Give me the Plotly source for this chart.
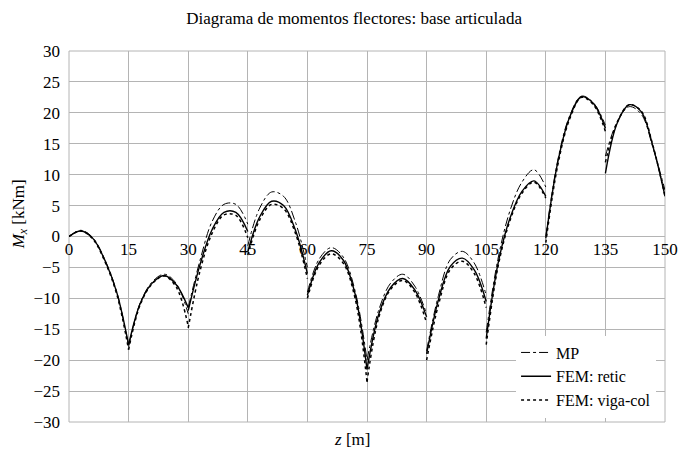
import plotly.graph_objects as go

# z positions per span (None separates the discontinuous spans)
z = [0, 3, 6, 9, 12, 15, None,
     15, 18, 21, 24, 27, 30, None,
     30, 33, 36, 39, 42, 45, None,
     45, 48, 51, 54, 57, 60, None,
     60, 63, 66, 69, 72, 75, None,
     75, 78, 81, 84, 87, 90, None,
     90, 93, 96, 99, 102, 105, None,
     105, 108, 111, 114, 117, 120, None,
     120, 123, 126, 129, 132, 135, None,
     135, 138, 141, 144, 147, 150]

mp = [0, 1.0, -0.2, -3.7, -8.9, -17.8, None,
      -17.8, -10.6, -7.3, -6.1, -7.6, -12.5, None,
      -11.5, -3.8, 2.4, 5.2, 5.2, 2.0, None,
      -1.5, 4.6, 7.2, 6.5, 2.3, -5.0, None,
      -9.0, -3.6, -1.8, -3.3, -8.8, -20.0, None,
      -20.0, -11.8, -7.5, -6.1, -8.0, -12.5, None,
      -18.5, -9.5, -3.7, -2.4, -4.3, -9.5, None,
      -15.5, -3.5, 4.2, 8.8, 10.8, 8.0, None,
      0.0, 12.3, 19.5, 22.7, 21.6, 18.0, None,
      13.0, 18.6, 21.0, 19.8, 14.3, 7.5]

fem_retic = [0, 0.9, -0.3, -3.8, -9.0, -17.5, None,
             -17.5, -10.7, -7.5, -6.3, -7.8, -11.5, None,
             -12.0, -4.5, 1.1, 3.9, 3.9, 0.8, None,
             -2.5, 3.2, 5.7, 5.0, 1.0, -6.0, None,
             -9.5, -4.2, -2.3, -3.8, -9.3, -21.5, None,
             -21.5, -12.5, -8.2, -6.8, -8.6, -13.0, None,
             -19.0, -10.2, -4.8, -3.5, -5.4, -10.5, None,
             -16.5, -4.3, 3.0, 7.3, 9.0, 6.5, None,
             -0.3, 12.0, 19.3, 22.6, 21.5, 17.5, None,
             10.2, 18.4, 21.3, 20.2, 14.5, 6.5]

fem_viga = [0, 0.9, -0.4, -4.0, -9.3, -18.3, None,
            -18.3, -10.9, -7.6, -6.4, -8.2, -14.5, None,
            -14.8, -5.5, 0.5, 3.5, 3.4, -0.2, None,
            -3.0, 2.7, 5.2, 4.5, 0.5, -6.8, None,
            -10.0, -4.6, -2.8, -4.3, -10.0, -23.5, None,
            -23.5, -13.0, -8.5, -7.1, -9.0, -14.0, None,
            -20.0, -11.0, -5.3, -4.0, -6.0, -11.5, None,
            -17.5, -4.8, 2.6, 7.0, 8.8, 6.2, None,
            -1.0, 11.5, 19.0, 22.5, 21.3, 17.0, None,
            12.0, 18.5, 21.3, 20.3, 14.6, 6.5]

x_ticks = [0, 15, 30, 45, 60, 75, 90, 105, 120, 135, 150]
y_ticks = [-30, -25, -20, -15, -10, -5, 0, 5, 10, 15, 20, 25, 30]

FONT = "Liberation Serif, Times New Roman, serif"
GRID = "#b4b4b4"

fig = go.Figure()
fig.add_trace(go.Scatter(x=z, y=mp, name="MP", mode="lines",
                         line=dict(color="black", width=1, dash="dashdot", shape="spline"),
                         connectgaps=False))
fig.add_trace(go.Scatter(x=z, y=fem_retic, name="FEM: retic", mode="lines",
                         line=dict(color="black", width=1.4, shape="spline"),
                         connectgaps=False))
fig.add_trace(go.Scatter(x=z, y=fem_viga, name="FEM: viga-col", mode="lines",
                         line=dict(color="black", width=1.5, dash="dot", shape="spline"),
                         connectgaps=False))

fig.update_layout(
    width=681, height=449,
    margin=dict(l=69, r=16, t=51, b=27, autoexpand=False),
    paper_bgcolor="white", plot_bgcolor="white",
    font=dict(family=FONT, size=17, color="black"),
    title=dict(text="Diagrama de momentos flectores: base articulada",
               x=0.52, xanchor="center", y=1 - 18 / 449, yanchor="middle",
               font=dict(family=FONT, size=17, color="black")),
    xaxis=dict(range=[0, 150], tickvals=x_ticks, ticktext=[str(v) for v in x_ticks],
               showgrid=True, gridcolor=GRID, gridwidth=1, zeroline=False,
               showline=False, ticks="", anchor="free", position=0.5,
               tickfont=dict(family=FONT, size=17, color="black")),
    yaxis=dict(range=[-30, 30], tickvals=y_ticks, domain=[0, 1],
               showgrid=True, gridcolor=GRID, gridwidth=1, zeroline=False,
               showline=False, ticks="", ticklabelstandoff=8,
               tickfont=dict(family=FONT, size=17, color="black")),
    legend=dict(x=0.985, xanchor="right", y=0.012, yanchor="bottom",
                bgcolor="white", borderwidth=0,
                font=dict(family=FONT, size=16, color="black")),
    shapes=[dict(type="rect", xref="paper", yref="paper", x0=0, x1=1, y0=0, y1=1,
                 line=dict(color=GRID, width=1), layer="below")],
    annotations=[
        dict(text="<i>M</i><sub><i>x</i></sub> [kNm]", xref="paper", yref="paper",
             x=-0.082, y=0.56, textangle=-90, showarrow=False,
             xanchor="center", yanchor="middle",
             font=dict(family=FONT, size=17, color="black")),
        dict(text="<i>z</i> [m]", xref="paper", yref="paper",
             x=0.475, y=-0.048, showarrow=False,
             xanchor="center", yanchor="middle",
             font=dict(family=FONT, size=17, color="black")),
    ],
)

fig.write_html("out.html", config={"displayModeBar": False},
               post_script="document.body.style.margin='0px';")
